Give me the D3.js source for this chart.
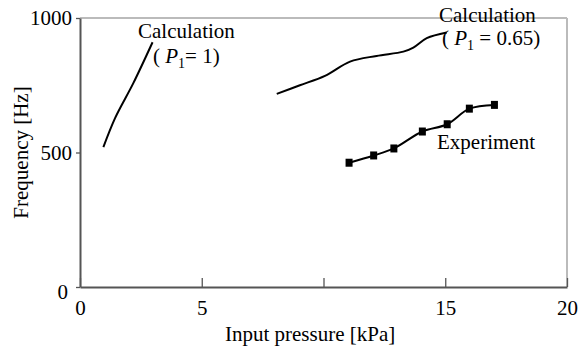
<!DOCTYPE html>
<html>
<head>
<meta charset="utf-8">
<script src="https://cdn.jsdelivr.net/npm/d3@7"></script>
<style>
  body { margin: 0; background: #fff; }
  text { font-family: "Liberation Serif", "Times New Roman", serif; fill: #000; }
</style>
</head>
<body>
<div id="chart"></div>
<script>
// data
var calcP1 = [[0.96, 520], [1.44, 628], [2.19, 758], [2.98, 910]];
var calcP065 = [[8.08, 718], [9.03, 750], [10.06, 785], [11.09, 838], [12.18, 859],
                [13.28, 875], [13.69, 890], [14.24, 925], [15.06, 946]];
var experiment = [[11.05, 462], [12.06, 489], [12.89, 515], [14.06, 578],
                  [15.08, 605], [15.99, 663], [17.02, 677]];
var xTicks = [0, 5, 10, 15, 20];
var xTickLabels = ["0", "5", "", "15", "20"];
var yTicks = [0, 500, 1000];

var margin = {top: 18, right: 21, bottom: 62, left: 80};
var W = 588, H = 349;
var width = W - margin.left - margin.right;
var height = H - margin.top - margin.bottom;

var svg = d3.select("#chart").append("svg")
  .attr("width", W).attr("height", H)
  .append("g")
  .attr("transform", `translate(${margin.left},${margin.top})`);

var x = d3.scaleLinear().domain([0, 20]).range([0, width]);
var y = d3.scaleLinear().domain([0, 1000]).range([height, 0]);

// frame: light gray top/right
svg.append("line").attr("x1", 0).attr("x2", width).attr("y1", 0).attr("y2", 0)
  .attr("stroke", "#bbb").attr("stroke-width", 2);
svg.append("line").attr("x1", width).attr("x2", width).attr("y1", 0).attr("y2", height)
  .attr("stroke", "#bbb").attr("stroke-width", 2);

// x axis, ticks pointing inward
var xAxis = svg.append("g")
  .attr("transform", `translate(0,${height})`)
  .call(d3.axisBottom(x).tickValues(xTicks).tickSizeInner(-9).tickSizeOuter(0)
    .tickFormat(function(d, i) { return xTickLabels[i]; }));
xAxis.select(".domain").attr("stroke", "#555").attr("stroke-width", 2);
xAxis.selectAll(".tick line").attr("stroke", "#555").attr("stroke-width", 1.3);
xAxis.selectAll(".tick text").attr("y", 13).attr("dy", "0.71em")
  .style("font-size", "21px").style("font-family", "Liberation Serif");

// y axis
var yAxis = svg.append("g")
  .call(d3.axisLeft(y).tickValues(yTicks).tickSizeInner(4).tickSizeOuter(0)
    .tickFormat(d3.format("d")));
yAxis.select(".domain").attr("stroke", "#555").attr("stroke-width", 2);
yAxis.selectAll(".tick line").attr("stroke", "#555").attr("stroke-width", 1.3);
yAxis.selectAll(".tick text").attr("x", -8)
  .style("font-size", "21px").style("font-family", "Liberation Serif");
yAxis.selectAll(".tick text").filter(function(d) { return d === 0; })
  .attr("x", -12).attr("y", 5);

// axis titles
svg.append("text")
  .attr("x", x(9.45)).attr("y", 341 - margin.top)
  .attr("text-anchor", "middle")
  .style("font-size", "21px")
  .text("Input pressure [kPa]");

svg.append("text")
  .attr("transform", `translate(${28 - margin.left},${y(500)}) rotate(-90)`)
  .attr("text-anchor", "middle")
  .style("font-size", "21px")
  .text("Frequency [Hz]");

var line = d3.line()
  .x(function(d) { return x(d[0]); })
  .y(function(d) { return y(d[1]); })
  .curve(d3.curveCatmullRom);

svg.append("path").datum(calcP1)
  .attr("fill", "none").attr("stroke", "#000").attr("stroke-width", 2)
  .attr("d", line);

svg.append("path").datum(calcP065)
  .attr("fill", "none").attr("stroke", "#000").attr("stroke-width", 2)
  .attr("d", line);

svg.append("path").datum(experiment)
  .attr("fill", "none").attr("stroke", "#000").attr("stroke-width", 2)
  .attr("d", line);

svg.selectAll(".mark").data(experiment).enter().append("rect")
  .attr("class", "mark")
  .attr("x", function(d) { return x(d[0]) - 3.5; })
  .attr("y", function(d) { return y(d[1]) - 4; })
  .attr("width", 7).attr("height", 8)
  .attr("fill", "#000");

// annotations
function label(px, py, txt) {
  return svg.append("text").attr("x", px).attr("y", py)
    .style("font-size", "21px").text(txt);
}
function pLabel(px, py, pre, post) {
  var t = svg.append("text").attr("x", px).attr("y", py).style("font-size", "21px");
  t.append("tspan").text(pre);
  t.append("tspan").style("font-style", "italic").text("P");
  t.append("tspan").attr("dy", 5).style("font-size", "14px").text("1");
  t.append("tspan").attr("dy", -5).text(post);
  return t;
}

label(138 - margin.left, 38 - margin.top, "Calculation");
pLabel(153 - margin.left, 63 - margin.top, "( ", "= 1)");

label(439 - margin.left, 22 - margin.top, "Calculation");
pLabel(442 - margin.left, 45 - margin.top, "( ", " = 0.65)");

label(437 - margin.left, 149 - margin.top, "Experiment");
</script>
</body>
</html>
